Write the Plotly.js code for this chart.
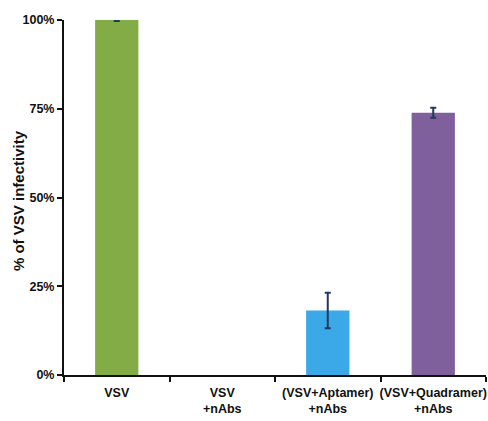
<!DOCTYPE html>
<html><head><meta charset="utf-8">
<script src="https://cdn.plot.ly/plotly-3.0.1.min.js"></script>
<style>body{margin:0;background:#fff}#c{width:488px;height:421px}</style>
</head><body><div id="c"></div>
<script>
const categories = ["VSV", "VSV<br>+nAbs", "(VSV+Aptamer)<br>+nAbs", "(VSV+Quadramer)<br>+nAbs"];
const values = [100, 0, 18.2, 73.9];
const errors = [0.3, NaN, 5, 1.4];
const colors = ["#84ac46", "#84ac46", "#3ba8e8", "#80609c"];
const yTicks = [0, 25, 50, 75, 100];
const yTickText = ["0%", "25%", "50%", "75%", "100%"];

Plotly.newPlot("c", [{
  type: "bar", x: categories, y: values,
  marker: {color: colors},
  width: 0.41,
  error_y: {type: "data", array: errors, visible: true, color: "#1f3a5f", thickness: 2, width: 3}
}], {
  width: 488, height: 421,
  margin: {l: 64, r: 2, t: 20, b: 46},
  paper_bgcolor: "#fff", plot_bgcolor: "#fff",
  showlegend: false,
  font: {family: "Liberation Sans, Arial", color: "#111", size: 12},
  xaxis: {
    type: "category", range: [-0.5, 3.5], tickangle: 0,
    showline: true, linecolor: "#111", linewidth: 2,
    ticks: "outside", tickson: "boundaries", ticklen: 5, tickwidth: 1.5, tickcolor: "#111",
    ticklabelstandoff: 5,
    tickfont: {family: "Liberation Sans, Arial", size: 12.5, weight: "bold"},
    showgrid: false, zeroline: false
  },
  yaxis: {
    range: [0, 100], tickvals: yTicks, ticktext: yTickText,
    showline: true, linecolor: "#111", linewidth: 2,
    ticks: "outside", ticklen: 5, tickwidth: 1.5, tickcolor: "#111",
    tickfont: {family: "Liberation Sans, Arial", size: 12.5, weight: "bold"},
    showgrid: false, zeroline: false
  },
  annotations: [{
    text: "% of VSV infectivity", textangle: -90, showarrow: false,
    xref: "paper", yref: "paper", x: 0, y: 0.49, xshift: -46,
    xanchor: "center", yanchor: "middle",
    font: {family: "Liberation Sans, Arial", size: 15, weight: "bold", color: "#111"}
  }]
}, {displayModeBar: false});
</script></body></html>
